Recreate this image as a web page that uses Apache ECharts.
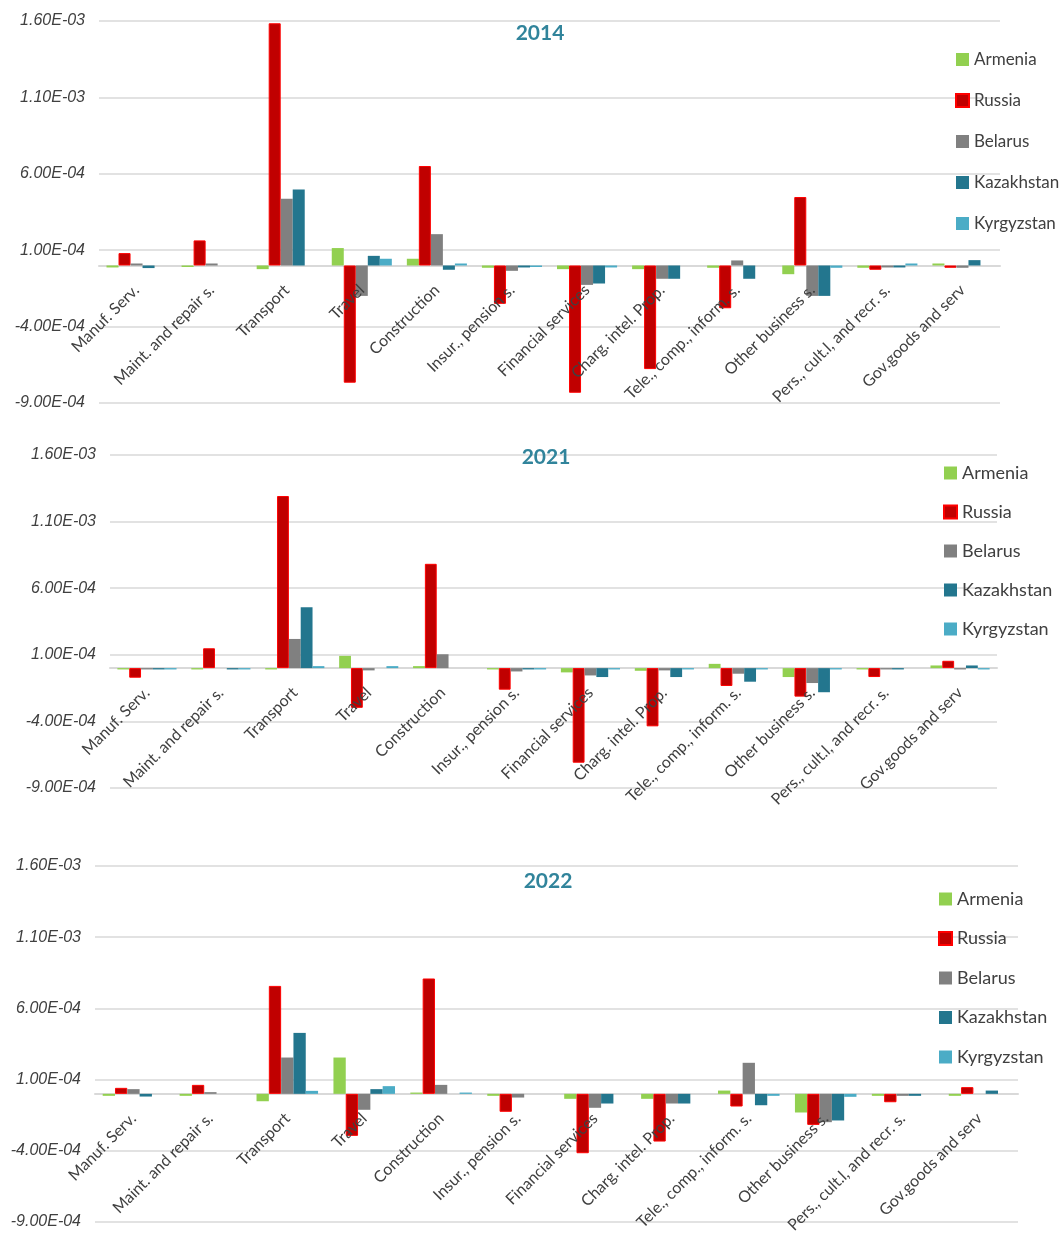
<!DOCTYPE html>
<html>
<head>
<meta charset="utf-8">
<script src="https://cdn.jsdelivr.net/npm/echarts@6/dist/echarts.min.js"></script>
<style>
html,body{margin:0;padding:0;background:#fff;}
#chart{width:1062px;height:1246px;}
</style>
</head>
<body>
<div id="chart"></div>
<script>
const categories = ["Manuf. Serv.", "Maint. and repair s.", "Transport", "Travel", "Construction", "Insur., pension s.", "Financial services", "Charg. intel. Prop.", "Tele., comp., inform. s.", "Other business s.", "Pers., cult.l, and recr. s.", "Gov.goods and serv"];
const countries = ["Armenia", "Russia", "Belarus", "Kazakhstan", "Kyrgyzstan"];
const years = ["2014", "2021", "2022"];
const yTicks = [-9e-4, -4e-4, 1e-4, 6e-4, 1.1e-3, 1.6e-3];

// 2014
const armenia2014    = [-1.3e-5, -1.0e-5, -2.4e-5, 1.14e-4, 4.4e-5, -1.5e-5, -2.4e-5, -2.4e-5, -1.5e-5, -5.7e-5, -1.5e-5, 1.3e-5];
const russia2014     = [8.1e-5, 1.64e-4, 1.585e-3, -7.67e-4, 6.51e-4, -2.51e-4, -8.33e-4, -6.78e-4, -2.8e-4, 4.48e-4, -2.8e-5, -1.5e-5];
const belarus2014    = [1.3e-5, 1.3e-5, 4.37e-4, -1.99e-4, 2.05e-4, -3.5e-5, -1.27e-4, -8.7e-5, 3.3e-5, -1.99e-4, -1.3e-5, -1.5e-5];
const kazakhstan2014 = [-1.7e-5, 0, 4.98e-4, 6.3e-5, -2.8e-5, -1.3e-5, -1.18e-4, -8.7e-5, -8.7e-5, -1.99e-4, -1.3e-5, 3.5e-5];
const kyrgyzstan2014 = [0, 0, 0, 4.4e-5, 1.3e-5, -1.0e-5, -1.3e-5, 0, 0, -1.5e-5, 1.3e-5, 0];

// 2021
const armenia2021    = [-1.0e-5, -1.0e-5, -1.0e-5, 9.2e-5, 1.5e-5, -1.0e-5, -3.2e-5, -2.0e-5, 3.2e-5, -6.7e-5, -1.0e-5, 2.0e-5];
const russia2021     = [-7.2e-5, 1.49e-4, 1.292e-3, -2.98e-4, 7.83e-4, -1.62e-4, -7.1e-4, -4.37e-4, -1.34e-4, -2.14e-4, -6.7e-5, 5.5e-5];
const belarus2021    = [-1.0e-5, 0, 2.19e-4, -1.7e-5, 1.04e-4, -2.5e-5, -5.5e-5, -1.7e-5, -4.2e-5, -1.12e-4, -1.0e-5, -1.0e-5];
const kazakhstan2021 = [-1.0e-5, -1.0e-5, 4.57e-4, 0, 0, -1.0e-5, -6.7e-5, -6.7e-5, -1.02e-4, -1.81e-4, -1.0e-5, 2.0e-5];
const kyrgyzstan2021 = [-1.0e-5, -1.0e-5, 1.5e-5, 1.5e-5, 0, -1.0e-5, -1.0e-5, -1.0e-5, -1.0e-5, -1.0e-5, 0, -1.0e-5];

// 2022
const armenia2022    = [-1.4e-5, -1.4e-5, -5.2e-5, 2.55e-4, 9e-6, -1.4e-5, -3.5e-5, -3.5e-5, 2.3e-5, -1.31e-4, -1.4e-5, -1.4e-5];
const russia2022     = [4.2e-5, 6.3e-5, 7.58e-4, -2.95e-4, 8.1e-4, -1.26e-4, -4.17e-4, -3.35e-4, -8.9e-5, -2.18e-4, -5.9e-5, 4.7e-5];
const belarus2022    = [3.3e-5, 1.2e-5, 2.55e-4, -1.12e-4, 6.3e-5, -2.6e-5, -9.8e-5, -6.8e-5, 2.18e-4, -1.99e-4, -1.4e-5, 0];
const kazakhstan2022 = [-1.9e-5, 0, 4.28e-4, 3.3e-5, 0, 0, -6.8e-5, -6.8e-5, -8.0e-5, -1.87e-4, -1.4e-5, 2.3e-5];
const kyrgyzstan2022 = [0, 0, 2.1e-5, 5.4e-5, 9e-6, 0, 0, 0, -1.4e-5, -2.1e-5, 0, 0];

const seriesByYear = [
  [armenia2014, russia2014, belarus2014, kazakhstan2014, kyrgyzstan2014],
  [armenia2021, russia2021, belarus2021, kazakhstan2021, kyrgyzstan2021],
  [armenia2022, russia2022, belarus2022, kazakhstan2022, kyrgyzstan2022]
];

const colors = ["#92d050", "#c00000", "#808080", "#23768e", "#4bacc6"];
const FONT = "Lato";

const grids = [
  {left: 99, top: 21, width: 901, height: 382},
  {left: 110, top: 455, width: 887, height: 333},
  {left: 95, top: 866, width: 923, height: 356}
];
const titlePos = [{x: 535, y: 18}, {x: 541, y: 442}, {x: 543, y: 866}];
const legendPos = [
  {left: 955, top: 51, gap: 24, size: 17},
  {left: 943, top: 464, gap: 21, size: 18},
  {left: 938, top: 890, gap: 21.5, size: 18}
];

const yMin = yTicks[0], yMax = yTicks[yTicks.length - 1];

function fmt(v) {
  const s = Number(v).toExponential(2);
  const parts = s.split('e');
  const sign = parts[1][0] === '-' ? '-' : '+';
  const digits = parts[1].replace(/^[+-]/, '').padStart(2, '0');
  return parts[0] + 'E' + sign + digits;
}

const xAxes = [];
years.forEach((y, i) => {
  // axis carrying the bars and the zero line (drawn beneath the bars)
  xAxes.push({
    type: 'category',
    gridIndex: i,
    position: 'bottom',
    z: 0,
    data: categories,
    axisLine: {onZero: true, lineStyle: {color: '#d9d9d9', width: 2}},
    axisTick: {show: false},
    axisLabel: {show: false},
    splitLine: {show: false}
  });
  // twin axis that only draws the category labels, above the bars
  const zeroFromBottom = grids[i].height * (0 - yMin) / (yMax - yMin);
  xAxes.push({
    type: 'category',
    gridIndex: i,
    position: 'bottom',
    z: 10,
    data: categories,
    axisLine: {show: false, onZero: false},
    axisTick: {show: false},
    axisLabel: {
      rotate: 45,
      interval: 0,
      color: '#404040',
      fontSize: 16,
      fontFamily: FONT,
      margin: -zeroFromBottom + 22
    },
    splitLine: {show: false}
  });
});

const option = {
  backgroundColor: '#ffffff',
  animation: false,
  textStyle: {fontFamily: FONT},
  title: years.map((y, i) => ({
    text: y,
    left: titlePos[i].x,
    top: titlePos[i].y,
    textAlign: 'center',
    textStyle: {color: '#31849b', fontSize: 21, fontWeight: 'bold', fontFamily: FONT}
  })),
  legend: years.map((y, i) => ({
    orient: 'vertical',
    left: legendPos[i].left,
    top: legendPos[i].top,
    padding: 0,
    itemWidth: 13,
    itemHeight: 13,
    itemGap: legendPos[i].gap,
    icon: 'rect',
    data: countries,
    textStyle: {color: '#404040', fontSize: legendPos[i].size, fontFamily: FONT},
    selectedMode: false
  })),
  grid: grids.map(g => Object.assign({containLabel: false}, g)),
  xAxis: xAxes,
  yAxis: years.map((y, i) => ({
    type: 'value',
    gridIndex: i,
    min: yMin,
    max: yMax,
    interval: yTicks[1] - yTicks[0],
    axisLine: {show: false},
    axisTick: {show: false},
    axisLabel: {
      formatter: fmt,
      color: '#404040',
      fontSize: 16,
      fontStyle: 'italic',
      fontFamily: "'Liberation Sans'",
      margin: 14
    },
    splitLine: {lineStyle: {color: '#d9d9d9', width: 1.5}}
  })),
  series: []
};

years.forEach((y, i) => {
  countries.forEach((c, k) => {
    option.series.push({
      type: 'bar',
      name: c,
      xAxisIndex: 2 * i,
      yAxisIndex: i,
      data: seriesByYear[i][k],
      barGap: '0%',
      barCategoryGap: '20%',
      itemStyle: k === 1
        ? {color: colors[k], borderColor: '#ff0000', borderWidth: 1}
        : {color: colors[k]}
    });
  });
});

const chart = echarts.init(document.getElementById('chart'), null, {renderer: 'canvas'});
chart.setOption(option);
</script>
</body>
</html>
